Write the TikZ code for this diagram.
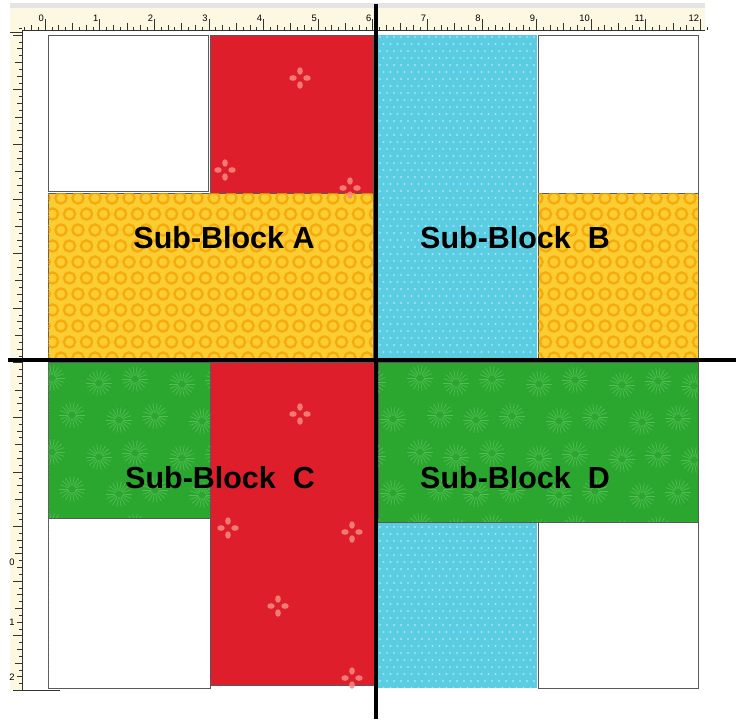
\documentclass[tikz,border=0pt]{standalone}
\usepackage{fontspec}
\setmainfont{Liberation Sans}
\usepackage{tikz}
\definecolor{rulecream}{HTML}{FCF8E2}
\definecolor{rulegrey}{HTML}{E4E4E4}
\definecolor{quiltred}{HTML}{DE1F2B}
\definecolor{petalpink}{HTML}{F58A82}
\definecolor{quiltcyan}{HTML}{5ACDE2}
\definecolor{quiltyellow}{HTML}{FCCD32}
\definecolor{ringorange}{HTML}{F5A000}
\definecolor{quiltgreen}{HTML}{2BA72F}
\definecolor{burstgreen}{HTML}{8EE08A}

\begin{document}
\begin{tikzpicture}[x=0.03cm, y=-0.03cm,
  patch/.style={draw=black!65, line width=0.5pt},
  tick/.style={line width=0.4pt, black!80},
  ruletxt/.style={font=\fontsize{8}{8}\selectfont, inner sep=0pt},
  blocklabel/.style={font=\fontsize{26}{26}\selectfont\bfseries, inner sep=0pt},
  petal/.style={fill=petalpink, opacity=0.85},
  seam/.style={line width=4pt, black}]
  \useasboundingbox (0,0) rectangle (736,719);

  % Lineale
  \fill[rulegrey] (10,3) rectangle (705,8);
  \fill[rulecream] (10,8) rectangle (705,30);
  \fill[rulecream] (10,30) rectangle (22,690);
  \draw[tick] (22,30) -- (705,30);
  \draw[tick] (22,30) -- (22,690) -- (60,690);
  \draw[tick] (10,32) -- (22,32);
  \foreach \i in {-3,...,97}{
    \pgfmathsetmacro\tx{45+\i*6.825}
    \pgfmathsetmacro\tl{ifthenelse(mod(\i,8)==0,11,ifthenelse(mod(\i,4)==0,7,ifthenelse(mod(\i,2)==0,5,3)))}
    \draw[tick] (\tx,30) -- ++(0,-\tl);
  }
  \foreach \n in {0,...,12}
    \node[ruletxt, anchor=south east] (top\n) at (44+\n*54.6,22) {\n};
  \foreach \i in {-1,...,96}{
    \pgfmathsetmacro\ty{35+\i*6.825}
    \pgfmathsetmacro\tl{ifthenelse(mod(\i,8)==0,9,ifthenelse(mod(\i,4)==0,7,ifthenelse(mod(\i,2)==0,5,3)))}
    \draw[tick] (22,\ty) -- ++(-\tl,0);
  }
  \foreach \m/\ly in {0/562,1/622,2/677}
    \node[ruletxt] (side\m) at (12,\ly) {\m};

  % Stoffe
  \fill[white, patch] (48,35) rectangle (208,191);
  \fill[white, patch] (538,35) rectangle (698,193);
  \fill[white, patch] (48,518) rectangle (210,688);
  \fill[white, patch] (538,522) rectangle (698,688);
  \fill[quiltred, patch] (210,35) rectangle (373,193);
  \fill[quiltred, patch] (210,362) rectangle (375,685);
  \fill[quiltcyan] (378,35) rectangle (537,360);
  \fill[quiltcyan] (378,522) rectangle (537,688);
  \fill[quiltyellow, patch] (48,193) rectangle (373,358);
  \fill[quiltyellow, patch] (538,193) rectangle (698,358);
  \fill[quiltgreen, patch] (48,362) rectangle (210,518);
  \fill[quiltgreen, patch] (378,362) rectangle (698,522);

  % Ringe (gelb)
  \begin{scope}
    \clip (48,193) rectangle (373,358) (538,193) rectangle (698,358);
    \foreach \r in {0,...,10}
      \foreach \c in {0,...,39}
        \draw[ringorange, line width=2pt, opacity=0.75]
          ({44+\c*17+mod(\r,2)*8.5},{198+\r*16}) circle (4.8pt);
  \end{scope}

  % Punkte (tuerkis)
  \begin{scope}
    \clip (378,35) rectangle (537,360) (378,522) rectangle (537,688);
    \foreach \r in {0,...,94}
      \foreach \c in {0,...,23}
        \fill[white, opacity=0.45] ({380+\c*7+mod(\r,2)*3.5},{37+\r*7}) circle (0.9pt);
  \end{scope}

  % Blueten (rot)
  \foreach \fx/\fy in {300/78,225/170,350/188,300/414,352/532,228/528,278/606,352/678}{
    \fill[petal] (\fx,\fy) ++(0,-7) ellipse[x radius=2.4pt, y radius=3.2pt];
    \fill[petal] (\fx,\fy) ++(0,7) ellipse[x radius=2.4pt, y radius=3.2pt];
    \fill[petal] (\fx,\fy) ++(-7,0) ellipse[x radius=3.2pt, y radius=2.4pt];
    \fill[petal] (\fx,\fy) ++(7,0) ellipse[x radius=3.2pt, y radius=2.4pt];
  }

  % Sterne (gruen)
  \begin{scope}
    \clip (48,362) rectangle (210,518) (378,362) rectangle (698,522);
    \foreach \r in {0,...,4}
      \foreach \c in {0,...,16}
        \foreach \a in {0,20,...,340}
          \draw[burstgreen, opacity=0.4, line width=0.6pt]
            ({52+\c*40+mod(\r,2)*20+mod(\c*7,11)},{378+\r*37+mod(\c*5,9)}) ++(\a:3pt) -- ++(\a:8pt);
  \end{scope}

  \draw[densely dotted, black!60] (48,193) -- (48,688);
  \draw[densely dotted, black!60] (698,193) -- (698,360);

  % Beschriftung
  \node[blocklabel] (subA) at (224,238) {Sub-Block A};
  \node[blocklabel] (subB) at (515,238) {Sub-Block\ \ B};
  \node[blocklabel] (subC) at (220,478) {Sub-Block\ \ C};
  \node[blocklabel] (subD) at (515,478) {Sub-Block\ \ D};

  % Nahtlinien
  \draw[seam] (376,4) -- (376,719);
  \draw[seam] (8,360) -- (736,360);
\end{tikzpicture}
\end{document}
